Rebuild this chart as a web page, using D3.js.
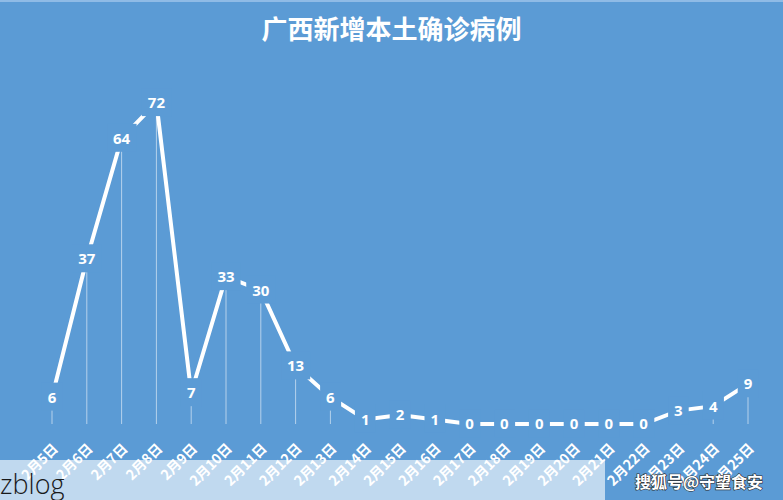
<!DOCTYPE html>
<html>
<head>
<meta charset="utf-8">
<script src="https://cdn.jsdelivr.net/npm/d3@7"></script>
<style>
  html, body { margin: 0; padding: 0; background: #5b9bd5; }
  svg { display: block; }
</style>
</head>
<body>
<svg id="chart" width="783" height="500"></svg>
<script>
const title = "广西新增本土确诊病例";
const categories = ["2月5日","2月6日","2月7日","2月8日","2月9日","2月10日","2月11日","2月12日","2月13日","2月14日","2月15日","2月16日","2月17日","2月18日","2月19日","2月20日","2月21日","2月22日","2月23日","2月24日","2月25日"];
const values = [6,37,64,72,7,33,30,13,6,1,2,1,0,0,0,0,0,0,3,4,9];

const W = 783, H = 500;
const bg = "#5b9bd5";
const svg = d3.select("#chart");

svg.append("rect").attr("width", W).attr("height", H).attr("fill", bg);
svg.append("rect").attr("width", W).attr("height", 2).attr("fill", "#8fbbe6");

const x = d3.scalePoint().domain(categories).range([52, 748]);
const y = d3.scaleLinear().domain([0, 80]).range([424, 67]);

// title
svg.append("text")
  .attr("x", W / 2).attr("y", 39)
  .attr("text-anchor", "middle")
  .attr("fill", "#ffffff")
  .attr("font-family", "'Noto Sans CJK SC', sans-serif")
  .attr("font-weight", "bold")
  .attr("font-size", 26)
  .text(title);

const data = categories.map((c, i) => ({ c, v: values[i] }));

// drop lines
svg.append("g").selectAll("line").data(data).join("line")
  .attr("x1", d => x(d.c)).attr("x2", d => x(d.c))
  .attr("y1", d => y(d.v)).attr("y2", y(0))
  .attr("stroke", "#ffffff").attr("stroke-opacity", 0.55).attr("stroke-width", 1);

// main line
svg.append("path").datum(data)
  .attr("fill", "none")
  .attr("stroke", "#ffffff")
  .attr("stroke-width", 4)
  .attr("d", d3.line().x(d => x(d.c)).y(d => y(d.v)));

// data labels with background
const lg = svg.append("g");
const labels = lg.selectAll("g").data(data).join("g")
  .attr("transform", d => `translate(${x(d.c)},${y(d.v)})`);
labels.append("rect")
  .attr("fill", bg);
labels.append("text")
  .attr("text-anchor", "middle")
  .attr("dy", "0.36em")
  .attr("fill", "#ffffff")
  .attr("font-family", "'Open Sans', 'Noto Sans', sans-serif")
  .attr("font-weight", "bold")
  .attr("font-size", 15)
  .text(d => d.v);
labels.each(function () {
  const t = d3.select(this).select("text").node().getBBox();
  d3.select(this).select("rect")
    .attr("x", t.x - 6).attr("y", t.y - 4)
    .attr("width", t.width + 12).attr("height", t.height + 8);
});

// x axis
const xAxis = svg.append("g")
  .attr("transform", `translate(0,${y(0)})`)
  .call(d3.axisBottom(x).tickSize(0).tickPadding(0));
xAxis.select(".domain").remove();
xAxis.selectAll("text")
  .attr("fill", "#ffffff")
  .attr("font-family", "'Noto Sans CJK SC', sans-serif")
  .attr("font-weight", "bold")
  .attr("font-size", 14)
  .attr("text-anchor", "end")
  .attr("dy", "0.35em")
  .attr("y", 0)
  .attr("transform", "translate(3,22) rotate(-45)");

// bottom watermark overlay
svg.append("rect")
  .attr("x", 0).attr("y", 460).attr("width", 605).attr("height", 40)
  .attr("fill", "#ffffff").attr("fill-opacity", 0.62);
svg.append("text")
  .attr("x", 0).attr("y", 494)
  .attr("fill", "#1a1a1a")
  .attr("font-family", "'Open Sans', 'Lato', sans-serif")
  .attr("font-weight", 300)
  .attr("font-size", 27)
  .text("zblog");

// right watermark
svg.append("text")
  .attr("x", 699).attr("y", 488)
  .attr("text-anchor", "middle")
  .attr("fill", "#ffffff")
  .attr("font-family", "'Noto Sans CJK SC', sans-serif")
  .attr("font-weight", "bold")
  .attr("font-size", 16)
  .attr("stroke", "#2a2a2a").attr("stroke-width", 1.2)
  .attr("paint-order", "stroke")
  .text("搜狐号@守望食安");
</script>
</body>
</html>
